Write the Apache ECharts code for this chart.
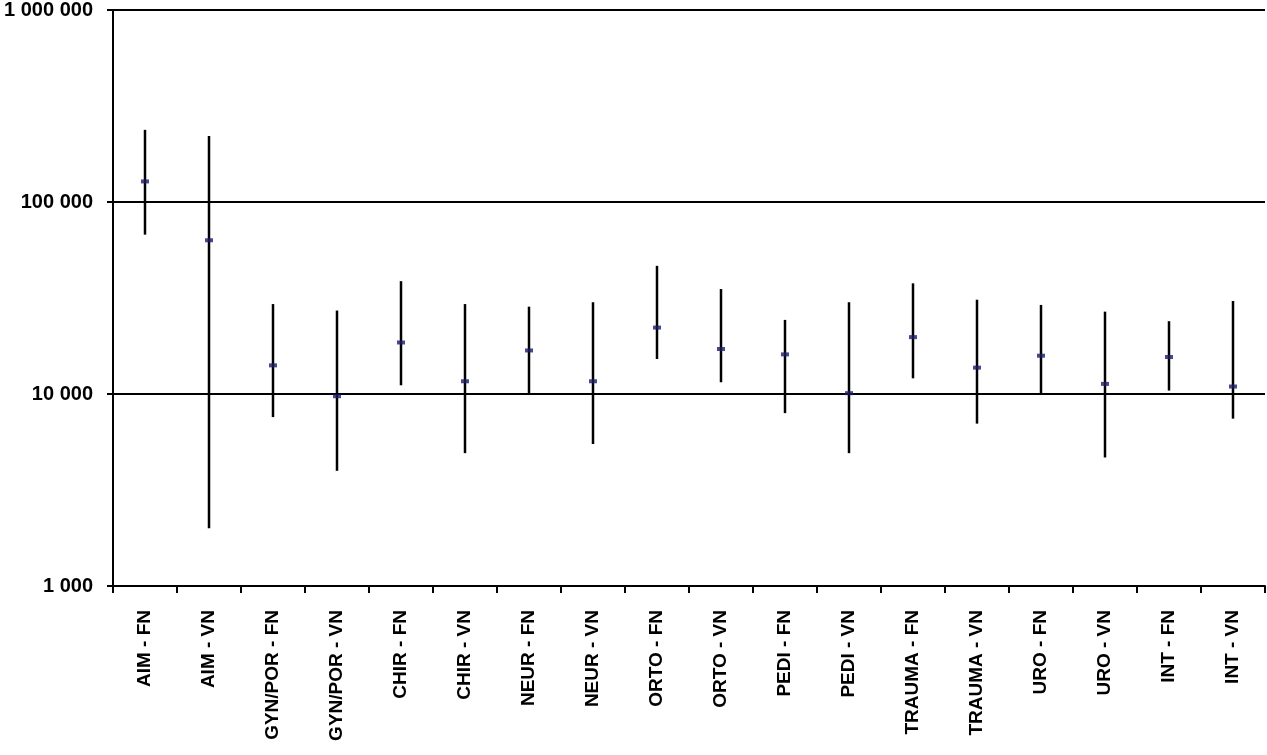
<!DOCTYPE html>
<html>
<head>
<meta charset="utf-8">
<script src="https://cdn.jsdelivr.net/npm/echarts@6/dist/echarts.min.js"></script>
<style>
html,body{margin:0;padding:0;background:#fff;}
#chart{width:1267px;height:755px;}
</style>
</head>
<body>
<div id="chart"></div>
<script>
const categories = ['AIM - FN','AIM - VN','GYN/POR - FN','GYN/POR - VN','CHIR - FN','CHIR - VN','NEUR - FN','NEUR - VN','ORTO - FN','ORTO - VN','PEDI - FN','PEDI - VN','TRAUMA - FN','TRAUMA - VN','URO - FN','URO - VN','INT - FN','INT - VN'];
const meanValues = [128000, 63200, 14100, 9740, 18550, 11650, 16860, 11650, 22180, 17150, 16080, 10100, 19780, 13720, 15830, 11290, 15590, 10940];
const lowValues  = [67600, 2000, 7580, 3980, 11100, 4920, 10000, 5490, 15220, 11510, 7950, 4920, 12070, 7010, 10000, 4670, 10420, 7440];
const highValues = [237600, 221000, 29400, 27200, 38700, 29400, 28500, 30050, 46500, 35200, 24320, 30050, 37700, 30980, 29100, 26850, 23950, 30500];
const yTickLabels = ['1 000', '10 000', '100 000', '1 000 000'];

const chart = echarts.init(document.getElementById('chart'));
const whiskers = categories.map((c, i) => [i, lowValues[i], highValues[i]]);
const means = categories.map((c, i) => [i, meanValues[i]]);
const font = '"Liberation Sans", Arial, sans-serif';
chart.setOption({
  animation: false,
  backgroundColor: '#fff',
  grid: { left: 113, right: 2, top: 10, bottom: 169, containLabel: false },
  xAxis: {
    type: 'category',
    data: categories,
    boundaryGap: true,
    axisLine: { show: true, onZero: false, lineStyle: { color: '#000', width: 2 } },
    axisTick: { show: true, alignWithLabel: false, length: 7, lineStyle: { color: '#000', width: 2 } },
    axisLabel: {
      interval: 0, rotate: 90, margin: 24,
      color: '#000', fontFamily: font, fontWeight: 'bold', fontSize: 19
    },
    splitLine: { show: false }
  },
  yAxis: {
    type: 'log',
    logBase: 10,
    min: 1000,
    max: 1000000,
    axisLine: { show: true, lineStyle: { color: '#000', width: 2 } },
    axisTick: { show: true, length: 6, lineStyle: { color: '#000', width: 2 } },
    axisLabel: {
      margin: 20, color: '#000', fontFamily: font, fontWeight: 'bold', fontSize: 20,
      formatter: function (v) {
        const idx = Math.round(Math.log10(v)) - 3;
        return yTickLabels[idx] !== undefined ? yTickLabels[idx] : '';
      }
    },
    splitLine: { show: true, lineStyle: { color: '#000', width: 2 } },
    minorTick: { show: false },
    minorSplitLine: { show: false }
  },
  series: [
    {
      type: 'custom',
      data: whiskers,
      encode: { x: 0, y: [1, 2] },
      renderItem: function (params, api) {
        const x = api.value(0);
        const lo = api.coord([x, api.value(1)]);
        const hi = api.coord([x, api.value(2)]);
        return {
          type: 'line',
          shape: { x1: lo[0], y1: lo[1], x2: hi[0], y2: hi[1] },
          style: { stroke: '#000', lineWidth: 2.5 }
        };
      },
      z: 2
    },
    {
      type: 'scatter',
      data: means,
      symbol: 'rect',
      symbolSize: [8, 4],
      itemStyle: { color: '#1c1c6c' },
      z: 3
    }
  ]
});
</script>
</body>
</html>
